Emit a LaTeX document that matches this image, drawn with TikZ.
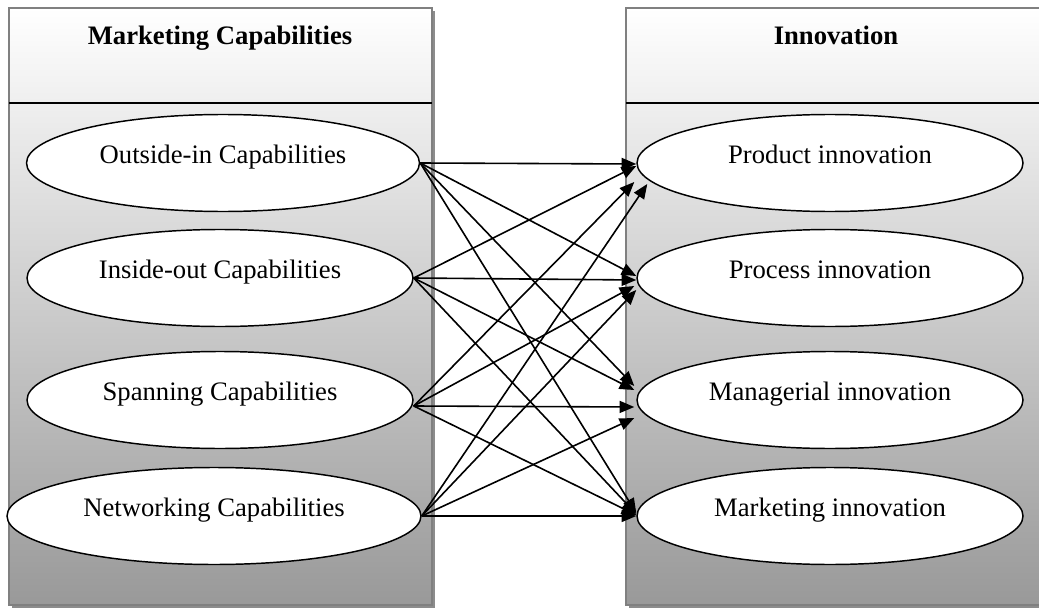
\documentclass[tikz,border=0pt]{standalone}
\usepackage{fontspec}
\setmainfont{Liberation Serif}
\usepackage{tikz}
\usetikzlibrary{arrows.meta,calc,shapes.geometric}

\tikzset{
  panel/.style={top color=white,bottom color=black!40,draw=black!50,line width=1.5pt},
  shadowbox/.style={fill=black!45,draw=none},
  capnode/.style={ellipse,draw,fill=white,line width=1.1pt,minimum height=72.75pt,
    text height=14pt,text depth=14pt,inner sep=0pt,font=\fontsize{20pt}{24pt}\selectfont},
  headtext/.style={anchor=base,font=\fontsize{20pt}{24pt}\selectfont\bfseries},
  link/.style={-{Triangle[length=11pt,width=9pt]},line width=1.2pt}
}

\begin{document}
\begin{tikzpicture}[x=0.75pt,y=-0.75pt]
      \useasboundingbox (0,0) rectangle (1039,610);

      % Marketing Capabilities
      \fill [shadowbox] (12,11) rectangle (435,608);
      \draw [panel] (9,8) rectangle (432,605);
      \draw [line width=0.8pt] (9,103) -- (432,103);
      \node [headtext] (mchead) at (220,45) {Marketing Capabilities};
      \node [capnode,minimum width=294.75pt] (o1) at (223,163) {Outside-in Capabilities};
      \node [capnode,minimum width=289.5pt] (o2) at (220,278) {Inside-out Capabilities};
      \node [capnode,minimum width=289.5pt] (o3) at (220,400) {Spanning Capabilities};
      \node [capnode,minimum width=310.5pt] (o4) at (214,516) {Networking Capabilities};

      % Innovation
      \fill [shadowbox] (629,11) rectangle (1048,608);
      \draw [panel] (626,8) rectangle (1045,605);
      \draw [line width=0.8pt] (626,103) -- (1045,103);
      \node [headtext] (inhead) at (836,45) {Innovation};
      \node [capnode,minimum width=289.5pt] (r1) at (830,163) {Product innovation};
      \node [capnode,minimum width=289.5pt] (r2) at (830,278) {Process innovation};
      \node [capnode,minimum width=289.5pt] (r3) at (830,400) {Managerial innovation};
      \node [capnode,minimum width=289.5pt] (r4) at (830,516) {Marketing innovation};

      % Outside-in
      \draw [link] (o1.east) -- ($(r1.west)+(0,1)$);
      \draw [link] (o1.east) -- ($(r2.west)+(0,-2)$);
      \draw [link] (o1.east) -- ($(r3.west)+(-2,-14)$);
      \draw [link] (o1.east) -- ($(r4.west)+(0,-3)$);

      % Inside-out
      \draw [link] (o2.east) -- ($(r1.west)+(0,3)$);
      \draw [link] (o2.east) -- ($(r2.west)+(0,2)$);
      \draw [link] (o2.east) -- ($(r3.west)+(-2,-10)$);
      \draw [link] (o2.east) -- ($(r4.west)+(0,-2)$);

      % Spanning
      \draw [link] ($(o3.east)+(0,6)$) -- ($(r1.west)+(-2,19)$);
      \draw [link] ($(o3.east)+(0,6)$) -- ($(r2.west)+(-2,8)$);
      \draw [link] ($(o3.east)+(0,6)$) -- ($(r3.west)+(-2,7)$);
      \draw [link] ($(o3.east)+(0,6)$) -- ($(r4.west)+(0,-1)$);

      % Networking
      \draw [link] (o4.east) -- ($(r1.west)+(11,21)$);
      \draw [link] (o4.east) -- ($(r2.west)+(0,12)$);
      \draw [link] (o4.east) -- ($(r3.west)+(-2,18)$);
      \draw [link] (o4.east) -- (r4.west);
    \end{tikzpicture}
\end{document}
